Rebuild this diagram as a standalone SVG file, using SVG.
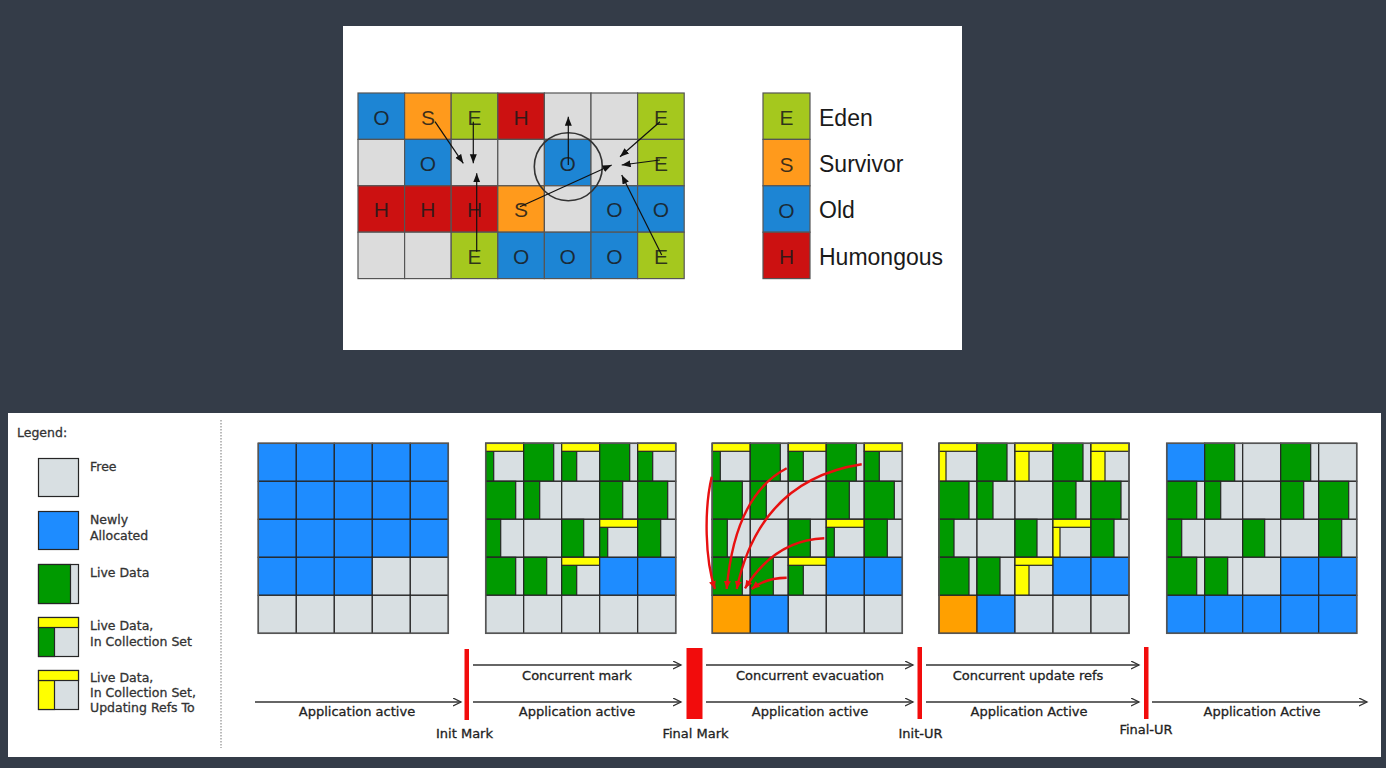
<svg xmlns="http://www.w3.org/2000/svg" xmlns:xlink="http://www.w3.org/1999/xlink" width="1386" height="768" viewBox="0 0 1386 768">
<style>
.tg{stroke:#555;stroke-width:1.2}
.tE{fill:#a5c81e}.tS{fill:#ff9a1c}.tO{fill:#1d85d4}.tH{fill:#cc1111}.tG{fill:#dcdcdc}
.tl{font-family:"Liberation Sans",Arial,sans-serif;font-size:21px;fill:#1a1a1a;fill-opacity:0.85;text-anchor:middle}
.tlab{font-family:"Liberation Sans",Arial,sans-serif;font-size:23px;fill:#1a1a1a}
.c{stroke:#262626;stroke-width:1.2}
.f{fill:#d8dfe2}.n{fill:#1e8cff}.o{fill:#ffa000}.gr{fill:#009a00}.y{fill:#ffff00}
.lbl{font-family:"DejaVu Sans",Verdana,sans-serif;font-size:13px;fill:#222;stroke:#222;stroke-width:0.3;text-anchor:middle}
.leg{font-family:"DejaVu Sans",Verdana,sans-serif;font-size:12.5px;fill:#333;stroke:#333;stroke-width:0.3}
.tline{stroke:#333;stroke-width:1.3;fill:none}
.bar{fill:#f20c0c}
.ka{stroke:#111;stroke-width:1.2;fill:none}
.ra{stroke:#e81010;stroke-width:2.4;fill:none}
</style>
<defs>
<marker id="ah" markerUnits="userSpaceOnUse" markerWidth="10" markerHeight="8" refX="9" refY="3.5" orient="auto"><path d="M0,0 L9,3.5 L0,7 z" fill="#111"/></marker>
<marker id="rh" markerUnits="userSpaceOnUse" markerWidth="9" markerHeight="8" refX="8" refY="3.5" orient="auto"><path d="M0,0 L8,3.5 L0,7 z" fill="#e81010"/></marker>
<marker id="oh" markerUnits="userSpaceOnUse" markerWidth="10" markerHeight="10" refX="8" refY="4" orient="auto"><path d="M0,0 L8,4 L0,8" fill="none" stroke="#333" stroke-width="1.3"/></marker>
<rect id="F" class="c f" width="38" height="38"/>
<rect id="N" class="c n" width="38" height="38"/>
<rect id="O" class="c o" width="38" height="38"/>
<g id="L30"><use href="#F"/><rect class="c gr" width="30" height="38"/></g>
<g id="L23"><use href="#F"/><rect class="c gr" width="23" height="38"/></g>
<g id="L22"><use href="#F"/><rect class="c gr" width="22" height="38"/></g>
<g id="L16"><use href="#F"/><rect class="c gr" width="16" height="38"/></g>
<g id="L15"><use href="#F"/><rect class="c gr" width="15" height="38"/></g>
<g id="C8"><use href="#F"/><rect class="c gr" y="8" width="8" height="30"/><rect class="c y" width="38" height="8"/></g>
<g id="C15"><use href="#F"/><rect class="c gr" y="8" width="15" height="30"/><rect class="c y" width="38" height="8"/></g>
<g id="U7"><use href="#F"/><rect class="c y" y="8" width="7" height="30"/><rect class="c y" width="38" height="8"/></g>
<g id="U14"><use href="#F"/><rect class="c y" y="8" width="14" height="30"/><rect class="c y" width="38" height="8"/></g>
</defs>
<rect width="1386" height="768" fill="#343c48"/>
<rect x="343" y="26" width="619" height="324" fill="#ffffff"/>
<rect x="8" y="413" width="1373" height="344" fill="#ffffff"/>

<g id="region-grid">
<rect class="tg tO" x="358" y="93" width="46.6" height="46.4"/>
<rect class="tg tS" x="404.6" y="93" width="46.6" height="46.4"/>
<rect class="tg tE" x="451.2" y="93" width="46.6" height="46.4"/>
<rect class="tg tH" x="497.8" y="93" width="46.6" height="46.4"/>
<rect class="tg tG" x="544.4" y="93" width="46.6" height="46.4"/>
<rect class="tg tG" x="591" y="93" width="46.6" height="46.4"/>
<rect class="tg tE" x="637.6" y="93" width="46.6" height="46.4"/>
<rect class="tg tG" x="358" y="139.4" width="46.6" height="46.4"/>
<rect class="tg tO" x="404.6" y="139.4" width="46.6" height="46.4"/>
<rect class="tg tG" x="451.2" y="139.4" width="46.6" height="46.4"/>
<rect class="tg tG" x="497.8" y="139.4" width="46.6" height="46.4"/>
<rect class="tg tO" x="544.4" y="139.4" width="46.6" height="46.4"/>
<rect class="tg tG" x="591" y="139.4" width="46.6" height="46.4"/>
<rect class="tg tE" x="637.6" y="139.4" width="46.6" height="46.4"/>
<rect class="tg tH" x="358" y="185.8" width="46.6" height="46.4"/>
<rect class="tg tH" x="404.6" y="185.8" width="46.6" height="46.4"/>
<rect class="tg tH" x="451.2" y="185.8" width="46.6" height="46.4"/>
<rect class="tg tS" x="497.8" y="185.8" width="46.6" height="46.4"/>
<rect class="tg tG" x="544.4" y="185.8" width="46.6" height="46.4"/>
<rect class="tg tO" x="591" y="185.8" width="46.6" height="46.4"/>
<rect class="tg tO" x="637.6" y="185.8" width="46.6" height="46.4"/>
<rect class="tg tG" x="358" y="232.2" width="46.6" height="46.4"/>
<rect class="tg tG" x="404.6" y="232.2" width="46.6" height="46.4"/>
<rect class="tg tE" x="451.2" y="232.2" width="46.6" height="46.4"/>
<rect class="tg tO" x="497.8" y="232.2" width="46.6" height="46.4"/>
<rect class="tg tO" x="544.4" y="232.2" width="46.6" height="46.4"/>
<rect class="tg tO" x="591" y="232.2" width="46.6" height="46.4"/>
<rect class="tg tE" x="637.6" y="232.2" width="46.6" height="46.4"/>
<text class="tl" x="381.3" y="124.5">O</text>
<text class="tl" x="427.9" y="124.5">S</text>
<text class="tl" x="474.5" y="124.5">E</text>
<text class="tl" x="521.1" y="124.5">H</text>
<text class="tl" x="660.9" y="124.5">E</text>
<text class="tl" x="427.9" y="170.9">O</text>
<text class="tl" x="567.7" y="170.9">O</text>
<text class="tl" x="660.9" y="170.9">E</text>
<text class="tl" x="381.3" y="217.3">H</text>
<text class="tl" x="427.9" y="217.3">H</text>
<text class="tl" x="474.5" y="217.3">H</text>
<text class="tl" x="521.1" y="217.3">S</text>
<text class="tl" x="614.3" y="217.3">O</text>
<text class="tl" x="660.9" y="217.3">O</text>
<text class="tl" x="474.5" y="263.7">E</text>
<text class="tl" x="521.1" y="263.7">O</text>
<text class="tl" x="567.7" y="263.7">O</text>
<text class="tl" x="614.3" y="263.7">O</text>
<text class="tl" x="660.9" y="263.7">E</text>
<circle cx="568.3" cy="166.7" r="34" fill="none" stroke="#333" stroke-width="1.6"/>
</g>

<g id="region-legend">
<rect class="tg tE" x="763" y="93" width="47" height="46.4"/>
<rect class="tg tS" x="763" y="139.4" width="47" height="46.4"/>
<rect class="tg tO" x="763" y="185.8" width="47" height="46.4"/>
<rect class="tg tH" x="763" y="232.2" width="47" height="46.4"/>
<text class="tl" x="786.5" y="125">E</text>
<text class="tl" x="786.5" y="171.5">S</text>
<text class="tl" x="786.5" y="217.8">O</text>
<text class="tl" x="786.5" y="264.3">H</text>
<text class="tlab" x="819" y="125.7">Eden</text>
<text class="tlab" x="819" y="172.3">Survivor</text>
<text class="tlab" x="819" y="218.3">Old</text>
<text class="tlab" x="819" y="265">Humongous</text>
</g>

<g id="region-arrows">
<path class="ka" marker-end="url(#ah)" d="M435,121.7 L463.3,163.3"/>
<path class="ka" marker-end="url(#ah)" d="M473.3,121.7 L473.3,163.3"/>
<path class="ka" marker-end="url(#ah)" d="M476.7,251.7 L476.7,173.3"/>
<path class="ka" marker-end="url(#ah)" d="M568.3,165 L568.3,116.7"/>
<path class="ka" marker-end="url(#ah)" d="M660,121.7 L620,156.7"/>
<path class="ka" marker-end="url(#ah)" d="M660,160 L621.7,165"/>
<path class="ka" marker-end="url(#ah)" d="M520,206.7 L611.7,165"/>
<path class="ka" marker-end="url(#ah)" d="M661.7,255 L621.7,175"/>
</g>

<g id="legend-bottom">
<text class="leg" x="17" y="437" font-size="13">Legend:</text>
<rect class="c f" x="38.5" y="458.5" width="40" height="38"/>
<text class="leg" x="90" y="471">Free</text>
<rect class="c n" x="38.5" y="511.5" width="40" height="38"/>
<text class="leg" x="90" y="524">Newly</text>
<text class="leg" x="90" y="540">Allocated</text>
<rect class="c f" x="38.5" y="564.5" width="40" height="39"/>
<rect class="c gr" x="38.5" y="564.5" width="32" height="39"/>
<text class="leg" x="90" y="577">Live Data</text>
<rect class="c f" x="38.5" y="617.5" width="40" height="39"/>
<rect class="c gr" x="38.5" y="627.5" width="16" height="29"/>
<rect class="c y" x="38.5" y="617.5" width="40" height="10"/>
<text class="leg" x="90" y="630">Live Data,</text>
<text class="leg" x="90" y="646">In Collection Set</text>
<rect class="c f" x="38.5" y="670.5" width="40" height="39"/>
<rect class="c y" x="38.5" y="680.5" width="16" height="29"/>
<rect class="c y" x="38.5" y="670.5" width="40" height="10"/>
<text class="leg" x="90" y="682">Live Data,</text>
<text class="leg" x="90" y="697">In Collection Set,</text>
<text class="leg" x="90" y="712">Updating Refs To</text>
<line x1="221" y1="420" x2="221" y2="748" stroke="#777" stroke-width="1" stroke-dasharray="1.5,1.5"/>
</g>

<g id="grid1" transform="translate(258.3,443.3)">
<use href="#N" x="0" y="0"/><use href="#N" x="38" y="0"/><use href="#N" x="76" y="0"/><use href="#N" x="114" y="0"/><use href="#N" x="152" y="0"/>
<use href="#N" x="0" y="38"/><use href="#N" x="38" y="38"/><use href="#N" x="76" y="38"/><use href="#N" x="114" y="38"/><use href="#N" x="152" y="38"/>
<use href="#N" x="0" y="76"/><use href="#N" x="38" y="76"/><use href="#N" x="76" y="76"/><use href="#N" x="114" y="76"/><use href="#N" x="152" y="76"/>
<use href="#N" x="0" y="114"/><use href="#N" x="38" y="114"/><use href="#N" x="76" y="114"/><use href="#F" x="114" y="114"/><use href="#F" x="152" y="114"/>
<use href="#F" x="0" y="152"/><use href="#F" x="38" y="152"/><use href="#F" x="76" y="152"/><use href="#F" x="114" y="152"/><use href="#F" x="152" y="152"/>
<rect width="190" height="190" fill="none" stroke="#555" stroke-width="1.5"/>
</g>

<g id="grid2" transform="translate(485.7,443.3)">
<use href="#C8" x="0" y="0"/><use href="#L30" x="38" y="0"/><use href="#C15" x="76" y="0"/><use href="#L30" x="114" y="0"/><use href="#C15" x="152" y="0"/>
<use href="#L30" x="0" y="38"/><use href="#L16" x="38" y="38"/><use href="#F" x="76" y="38"/><use href="#L23" x="114" y="38"/><use href="#L30" x="152" y="38"/>
<use href="#L15" x="0" y="76"/><use href="#F" x="38" y="76"/><use href="#L22" x="76" y="76"/><use href="#C8" x="114" y="76"/><use href="#L23" x="152" y="76"/>
<use href="#L30" x="0" y="114"/><use href="#L23" x="38" y="114"/><use href="#C15" x="76" y="114"/><use href="#N" x="114" y="114"/><use href="#N" x="152" y="114"/>
<use href="#F" x="0" y="152"/><use href="#F" x="38" y="152"/><use href="#F" x="76" y="152"/><use href="#F" x="114" y="152"/><use href="#F" x="152" y="152"/>
<rect width="190" height="190" fill="none" stroke="#555" stroke-width="1.5"/>
</g>

<g id="grid3" transform="translate(712.3,443.3)">
<use href="#C8" x="0" y="0"/><use href="#L30" x="38" y="0"/><use href="#C15" x="76" y="0"/><use href="#L30" x="114" y="0"/><use href="#C15" x="152" y="0"/>
<use href="#L30" x="0" y="38"/><use href="#L16" x="38" y="38"/><use href="#F" x="76" y="38"/><use href="#L23" x="114" y="38"/><use href="#L30" x="152" y="38"/>
<use href="#L15" x="0" y="76"/><use href="#F" x="38" y="76"/><use href="#L22" x="76" y="76"/><use href="#C8" x="114" y="76"/><use href="#L23" x="152" y="76"/>
<use href="#L30" x="0" y="114"/><use href="#L23" x="38" y="114"/><use href="#C15" x="76" y="114"/><use href="#N" x="114" y="114"/><use href="#N" x="152" y="114"/>
<use href="#O" x="0" y="152"/><use href="#N" x="38" y="152"/><use href="#F" x="76" y="152"/><use href="#F" x="114" y="152"/><use href="#F" x="152" y="152"/>
<rect width="190" height="190" fill="none" stroke="#555" stroke-width="1.5"/>
</g>

<g id="grid4" transform="translate(939,443.3)">
<use href="#U7" x="0" y="0"/><use href="#L30" x="38" y="0"/><use href="#U14" x="76" y="0"/><use href="#L30" x="114" y="0"/><use href="#U14" x="152" y="0"/>
<use href="#L30" x="0" y="38"/><use href="#L16" x="38" y="38"/><use href="#F" x="76" y="38"/><use href="#L23" x="114" y="38"/><use href="#L30" x="152" y="38"/>
<use href="#L15" x="0" y="76"/><use href="#F" x="38" y="76"/><use href="#L22" x="76" y="76"/><use href="#U7" x="114" y="76"/><use href="#L23" x="152" y="76"/>
<use href="#L30" x="0" y="114"/><use href="#L23" x="38" y="114"/><use href="#U14" x="76" y="114"/><use href="#N" x="114" y="114"/><use href="#N" x="152" y="114"/>
<use href="#O" x="0" y="152"/><use href="#N" x="38" y="152"/><use href="#F" x="76" y="152"/><use href="#F" x="114" y="152"/><use href="#F" x="152" y="152"/>
<rect width="190" height="190" fill="none" stroke="#555" stroke-width="1.5"/>
</g>

<g id="grid5" transform="translate(1166.7,443.3)">
<use href="#N" x="0" y="0"/><use href="#L30" x="38" y="0"/><use href="#F" x="76" y="0"/><use href="#L30" x="114" y="0"/><use href="#F" x="152" y="0"/>
<use href="#L30" x="0" y="38"/><use href="#L16" x="38" y="38"/><use href="#F" x="76" y="38"/><use href="#L23" x="114" y="38"/><use href="#L30" x="152" y="38"/>
<use href="#L15" x="0" y="76"/><use href="#F" x="38" y="76"/><use href="#L22" x="76" y="76"/><use href="#F" x="114" y="76"/><use href="#L23" x="152" y="76"/>
<use href="#L30" x="0" y="114"/><use href="#L23" x="38" y="114"/><use href="#F" x="76" y="114"/><use href="#N" x="114" y="114"/><use href="#N" x="152" y="114"/>
<use href="#N" x="0" y="152"/><use href="#N" x="38" y="152"/><use href="#N" x="76" y="152"/><use href="#N" x="114" y="152"/><use href="#N" x="152" y="152"/>
<rect width="190" height="190" fill="none" stroke="#555" stroke-width="1.5"/>
</g>

<g id="evac-arrows">
<path class="ra" marker-end="url(#rh)" d="M711.7,476.7 C704,510 705,560 715,589"/>
<path class="ra" marker-end="url(#rh)" d="M786.7,468.3 Q735,495 726.7,589"/>
<path class="ra" marker-end="url(#rh)" d="M861.7,464.3 Q760,480 736.7,589"/>
<path class="ra" marker-end="url(#rh)" d="M824.3,538.3 Q775,540 745,588.3"/>
<path class="ra" marker-end="url(#rh)" d="M786.7,577.7 Q765,578 751.7,589"/>
</g>

<g id="timeline">
<line class="tline" marker-end="url(#oh)" x1="255" y1="702" x2="461" y2="702"/>
<line class="tline" marker-end="url(#oh)" x1="473" y1="702" x2="681" y2="702"/>
<line class="tline" marker-end="url(#oh)" x1="706" y1="702" x2="913" y2="702"/>
<line class="tline" marker-end="url(#oh)" x1="926" y1="702" x2="1139" y2="702"/>
<line class="tline" marker-end="url(#oh)" x1="1152" y1="702" x2="1367" y2="702"/>
<line class="tline" marker-end="url(#oh)" x1="473" y1="665" x2="681" y2="665"/>
<line class="tline" marker-end="url(#oh)" x1="706" y1="665" x2="913" y2="665"/>
<line class="tline" marker-end="url(#oh)" x1="926" y1="665" x2="1139" y2="665"/>
</g>

<g id="pause-init-mark"><rect class="bar" x="464.5" y="649" width="4.5" height="71"/><text class="lbl" x="464.5" y="738">Init Mark</text></g>
<g id="pause-final-mark"><rect class="bar" x="686.5" y="648" width="16" height="71"/><text class="lbl" x="695.5" y="738">Final Mark</text></g>
<g id="pause-init-ur"><rect class="bar" x="917.5" y="647" width="4.5" height="72"/><text class="lbl" x="920.5" y="738">Init-UR</text></g>
<g id="pause-final-ur"><rect class="bar" x="1144" y="647" width="4.5" height="72"/><text class="lbl" x="1146" y="734">Final-UR</text></g>

<g id="phase-labels">
<text class="lbl" x="357" y="716">Application active</text>
<text class="lbl" x="577" y="680">Concurrent mark</text>
<text class="lbl" x="577" y="716">Application active</text>
<text class="lbl" x="810" y="680">Concurrent evacuation</text>
<text class="lbl" x="810" y="716">Application active</text>
<text class="lbl" x="1028" y="680">Concurrent update refs</text>
<text class="lbl" x="1029" y="716">Application Active</text>
<text class="lbl" x="1262" y="716">Application Active</text>
</g>
</svg>
